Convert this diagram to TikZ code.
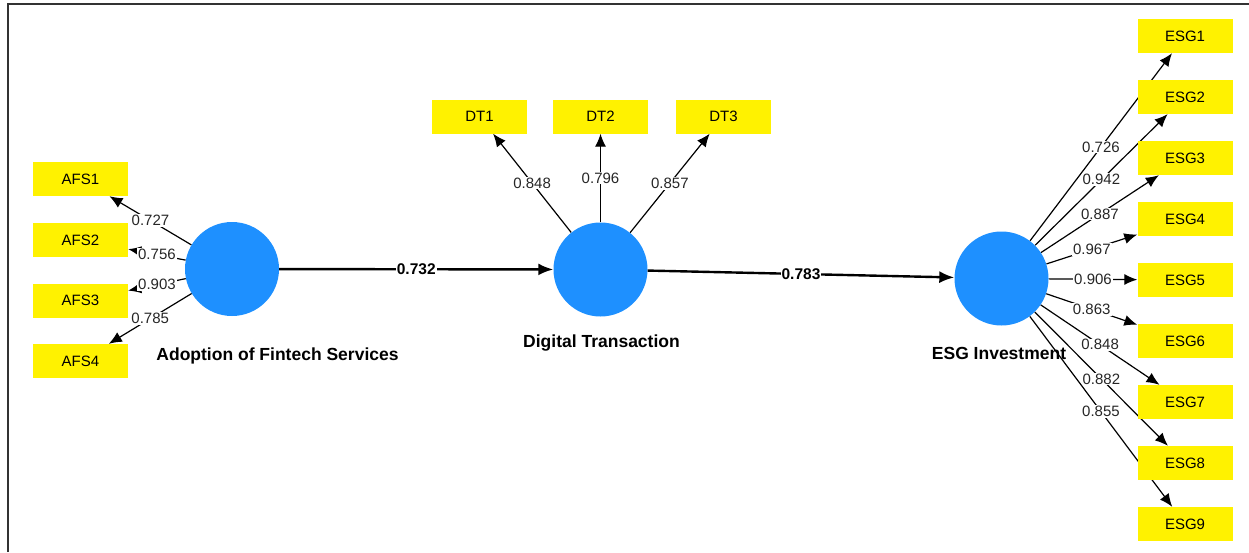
\documentclass[tikz,border=0pt]{standalone}
\usepackage{fontspec}
\setmainfont{Liberation Sans}
\usepackage{tikz}
\usetikzlibrary{%
	arrows.meta,%
	backgrounds,% wg. on background layer
	calc
}
\definecolor{latentblue}{RGB}{30,144,255}
\definecolor{framegray}{RGB}{50,50,50}
\tikzstyle{latent}=[circle, minimum size=94pt, inner sep=0pt, fill=latentblue]
\tikzstyle{indicator} = [rectangle, minimum width=95pt, minimum height=34pt, inner sep=0pt, fill=yellow, font=\fontsize{15}{17}\selectfont]
\tikzstyle{construct} = [font=\bfseries\fontsize{17.5}{20}\selectfont]
\tikzstyle{loading} = [draw, line width=1.2pt, -{Latex[length=13pt,width=11pt]}]
\tikzstyle{structural} = [draw, line width=2.4pt, -{Latex[length=15pt,width=12pt]}]
\tikzstyle{weight} = [fill=white, inner sep=1pt, text=black!85, font=\fontsize{15}{17}\selectfont]
\tikzstyle{pathweight} = [weight, text=black, font=\bfseries\fontsize{15.5}{17}\selectfont]

\begin{document}
\begin{tikzpicture}[x=1pt,y=-1pt]
	\useasboundingbox (0,0) rectangle (1249,552);
	
	% Frame (top and left only)
	\draw[line width=2pt, framegray] (8,552) -- (8,4) -- (1249,4);
	
	% First we draw the latent variables
	\foreach \pos/\name in {{(232,269)/AFS}, {(600.5,269.5)/DT}, {(1001.5,278.5)/ESG}}
	\node[latent] (\name) at \pos {};
	
	% Names of the constructs
	\node[construct] (AFSname) at (277.5,356) {Adoption of Fintech Services};
	\node[construct] (DTname) at (601.5,343.5) {Digital Transaction};
	\node[construct] (ESGname) at (999,353.5) {ESG Investment};
	
	% Then we draw the indicators
	\foreach \i/\y in {1/179, 2/240, 3/300.5, 4/361}
	\node[indicator] (AFS\i) at (80.5,\y) {AFS\i};
	\foreach \i/\x in {1/479.5, 2/600.5, 3/723.5}
	\node[indicator] (DT\i) at (\x,116.5) {DT\i};
	\foreach \i in {1,...,9}
	\node[indicator] (ESG\i) at (1185,{36+(\i-1)*61}) {ESG\i};
	
	% Connect latent variables with indicators (behind the boxes)
	\begin{scope}[on background layer]
		\foreach \source/ \dest in {
			AFS/AFS1, AFS/AFS2, AFS/AFS3, AFS/AFS4,
			DT/DT1, DT/DT2, DT/DT3,
			ESG/ESG1, ESG/ESG2, ESG/ESG3, ESG/ESG4, ESG/ESG5,
			ESG/ESG6, ESG/ESG7, ESG/ESG8, ESG/ESG9%
		}
		\path[loading] (\source) to (\dest);
	\end{scope}
	
	% Draw outer loadings
	\foreach \source/ \dest /\weight in {
		AFS/AFS1/0.727, AFS/AFS2/0.756, AFS/AFS3/0.903, AFS/AFS4/0.785,
		DT/DT1/0.848, DT/DT2/0.796, DT/DT3/0.857,
		ESG/ESG1/0.726, ESG/ESG2/0.942, ESG/ESG3/0.887, ESG/ESG4/0.967,
		ESG/ESG5/0.906, ESG/ESG6/0.863, ESG/ESG7/0.848, ESG/ESG8/0.882,
		ESG/ESG9/0.855%
	}
	\path (\source) to node[weight]{\weight} (\dest);
	
	% Connect latent variables with path coefficients
	\foreach \source/ \dest /\weight in {
		AFS/DT/0.732,
		DT/ESG/0.783%
	}
	\path[structural] (\source) to node[pathweight]{\weight} (\dest);
	
\end{tikzpicture}
\end{document}
